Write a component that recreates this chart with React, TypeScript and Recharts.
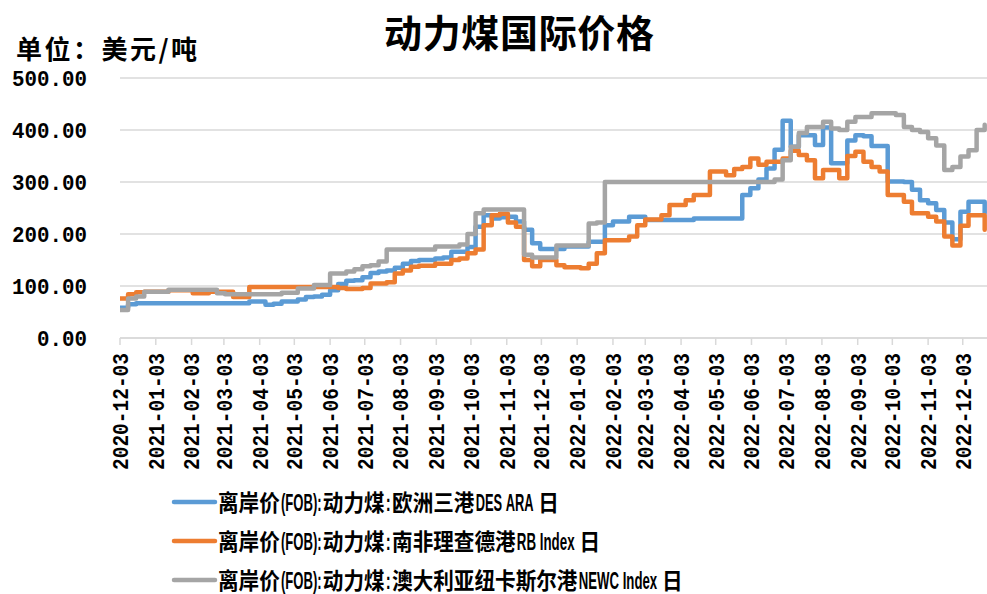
import React from 'react';
import { LineChart, Line, XAxis, YAxis, CartesianGrid, Legend } from 'recharts';

const TITLE = '动力煤国际价格';
const UNIT_LABEL = '单位：美元/吨';

// weekly observation dates
const dates = [
  '2020-12-03', '2020-12-10', '2020-12-17', '2020-12-24', '2020-12-31',
  '2021-01-07', '2021-01-14', '2021-01-21', '2021-01-28', '2021-02-04',
  '2021-02-11', '2021-02-18', '2021-02-25', '2021-03-04', '2021-03-11',
  '2021-03-18', '2021-03-25', '2021-04-01', '2021-04-08', '2021-04-15',
  '2021-04-22', '2021-04-29', '2021-05-06', '2021-05-13', '2021-05-20',
  '2021-05-27', '2021-06-03', '2021-06-10', '2021-06-17', '2021-06-24',
  '2021-07-01', '2021-07-08', '2021-07-15', '2021-07-22', '2021-07-29',
  '2021-08-05', '2021-08-12', '2021-08-19', '2021-08-26', '2021-09-02',
  '2021-09-09', '2021-09-16', '2021-09-23', '2021-09-30', '2021-10-07',
  '2021-10-14', '2021-10-21', '2021-10-28', '2021-11-04', '2021-11-11',
  '2021-11-18', '2021-11-25', '2021-12-02', '2021-12-09', '2021-12-16',
  '2021-12-23', '2021-12-30', '2022-01-06', '2022-01-13', '2022-01-20',
  '2022-01-27', '2022-02-03', '2022-02-10', '2022-02-17', '2022-02-24',
  '2022-03-03', '2022-03-10', '2022-03-17', '2022-03-24', '2022-03-31',
  '2022-04-07', '2022-04-14', '2022-04-21', '2022-04-28', '2022-05-05',
  '2022-05-12', '2022-05-19', '2022-05-26', '2022-06-02', '2022-06-09',
  '2022-06-16', '2022-06-23', '2022-06-30', '2022-07-07', '2022-07-14',
  '2022-07-21', '2022-07-28', '2022-08-04', '2022-08-11', '2022-08-18',
  '2022-08-25', '2022-09-01', '2022-09-08', '2022-09-15', '2022-09-22',
  '2022-09-29', '2022-10-06', '2022-10-13', '2022-10-20', '2022-10-27',
  '2022-11-03', '2022-11-10', '2022-11-17', '2022-11-24', '2022-12-01',
  '2022-12-08', '2022-12-15', '2022-12-22',
];

// 欧洲三港 DES ARA
const europeARA = [
  58, 65, 67, 67, 67, 67, 67, 67, 67, 67,
  67, 67, 67, 67, 67, 67, 70, 70, 64, 66,
  70, 70, 74, 79, 80, 83, 92, 104, 110, 111,
  117, 125, 128, 130, 135, 143, 148, 150, 150, 153,
  155, 166, 166, 175, 214, 236, 230, 232, 233, 224,
  208, 182, 171, 171, 171, 176, 176, 176, 185, 185,
  217, 224, 224, 233, 233, 227, 227, 227, 227, 227,
  227, 230, 230, 230, 230, 230, 230, 275, 288, 305,
  326, 362, 418, 368, 390, 390, 371, 405, 336, 336,
  380, 390, 388, 369, 369, 301, 301, 300, 285, 265,
  259, 246, 222, 190, 243, 262, 262, 240,
];

// 南非理查德港 RB Index
const richardsBay = [
  76, 84, 88, 89, 89, 89, 92, 92, 92, 86,
  86, 89, 89, 89, 79, 79, 98, 98, 98, 98,
  98, 98, 98, 98, 98, 98, 98, 96, 94, 94,
  96, 105, 105, 107, 124, 130, 137, 139, 139, 143,
  143, 150, 153, 163, 170, 217, 236, 239, 222, 214,
  150, 138, 150, 150, 140, 136, 136, 134, 143, 163,
  188, 188, 188, 195, 217, 228, 228, 236, 256, 256,
  265, 275, 275, 320, 320, 313, 325, 329, 345, 333,
  339, 339, 345, 360, 352, 342, 307, 323, 323, 307,
  350, 358, 339, 329, 320, 275, 275, 262, 240, 240,
  233, 224, 195, 178, 216, 236, 236, 208,
];

// 澳大利亚纽卡斯尔港 NEWC Index
const newcastle = [
  54, 76, 80, 89, 89, 89, 93, 93, 93, 93,
  93, 93, 86, 84, 84, 84, 84, 84, 84, 84,
  87, 87, 95, 95, 102, 102, 124, 124, 128, 132,
  138, 140, 147, 170, 170, 170, 170, 170, 170, 176,
  176, 176, 180, 200, 240, 247, 247, 247, 247, 247,
  160, 155, 155, 155, 178, 178, 178, 178, 220, 222,
  300, 300, 300, 300, 300, 300, 300, 300, 300, 300,
  300, 300, 300, 300, 300, 300, 300, 300, 300, 300,
  300, 305, 342, 368, 394, 406, 406, 416, 403, 400,
  416, 425, 425, 432, 432, 432, 429, 406, 400, 396,
  384, 370, 323, 329, 349, 361, 400, 410,
];

const seriesNames = [
  '离岸价(FOB):动力煤:欧洲三港DES ARA 日',
  '离岸价(FOB):动力煤:南非理查德港RB Index 日',
  '离岸价(FOB):动力煤:澳大利亚纽卡斯尔港NEWC Index 日',
];
const seriesKeys = ['ara', 'rb', 'newc'];
const seriesColors = ['#5B9BD5', '#ED7D31', '#A5A5A5'];

const xTickLabels = [
  '2020-12-03', '2021-01-03', '2021-02-03', '2021-03-03', '2021-04-03',
  '2021-05-03', '2021-06-03', '2021-07-03', '2021-08-03', '2021-09-03',
  '2021-10-03', '2021-11-03', '2021-12-03', '2022-01-03', '2022-02-03',
  '2022-03-03', '2022-04-03', '2022-05-03', '2022-06-03', '2022-07-03',
  '2022-08-03', '2022-09-03', '2022-10-03', '2022-11-03', '2022-12-03',
];
const xDomainEndDate = '2022-12-24';
const yTicks = [0, 100, 200, 300, 400, 500];

const ts = (s: string) => Date.parse(s + 'T00:00:00Z');
const fmtDate = (v: number) => new Date(v).toISOString().slice(0, 10);

const chartData = dates.map((d, i) => ({
  t: ts(d),
  ara: europeARA[i],
  rb: richardsBay[i],
  newc: newcastle[i],
}));

const MONO = '"Liberation Mono", "DejaVu Sans Mono", monospace';
const CJK = '"Noto Sans CJK SC", "Noto Sans", sans-serif';
const LATIN = '"Liberation Sans", Arial, sans-serif';

const XTick = (props: any) => {
  const { x, y, payload } = props;
  const label = fmtDate(payload.value);
  return (
    <g transform={`translate(${x},${y})`}>
      <text
        transform="rotate(-90)"
        textAnchor="end"
        dy="0.36em"
        fontFamily={MONO}
        fontWeight="bold"
        fontSize={22}
        fill="#000"
        textLength={label.length * 11.7}
        lengthAdjust="spacingAndGlyphs"
      >
        {label}
      </text>
    </g>
  );
};

const YTick = (props: any) => {
  const { x, y, payload } = props;
  const label = Number(payload.value).toFixed(2);
  return (
    <text
      x={x}
      y={y}
      textAnchor="end"
      dy="0.36em"
      fontFamily={MONO}
      fontWeight="bold"
      fontSize={22}
      fill="#000"
      textLength={label.length * 12.5}
      lengthAdjust="spacingAndGlyphs"
    >
      {label}
    </text>
  );
};

const isCJK = (c: string) => /[\u3000-\u9fff\uff00-\uffef]/.test(c);
const asciiWidth = (c: string) => {
  if ('():.'.includes(c)) return 6;
  if (c === ' ') return 7;
  if (c === 'I') return 4;
  if (c === 'W') return 14;
  if (c === 'O') return 11;
  if (c === 'N') return 11;
  if (c >= 'A' && c <= 'Z') return 10;
  return 9;
};

const LegendRow = ({ label, color, y }: { label: string; color: string; y: number }) => {
  const runs = label.match(/[\u3000-\u9fff\uff00-\uffef]+|[^\u3000-\u9fff\uff00-\uffef]+/g) || [];
  let cx = 58;
  const spans: any[] = [];
  runs.forEach((run, i) => {
    const cjk = isCJK(run[0]);
    const w = cjk
      ? run.length * 20.6
      : run.split('').reduce((s, c) => s + asciiWidth(c), 0) * 0.83;
    const shown = cjk ? run : run.replace(/ /g, '\u00a0');
    spans.push(
      <tspan
        key={i}
        x={cx}
        fontFamily={cjk ? CJK : LATIN}
        fontSize={cjk ? 23 : 24}
        textLength={w}
        lengthAdjust="spacingAndGlyphs"
      >
        {shown}
      </tspan>
    );
    cx += w + 1.2;
  });
  return (
    <g>
      <line x1={14} x2={55} y1={y} y2={y} stroke={color} strokeWidth={4.5} strokeLinecap="round" />
      <text y={y + 9} fontWeight="bold" fill="#000">
        {spans}
      </text>
    </g>
  );
};

const LegendContent = (props: any) => {
  const payload = props.payload || [];
  return (
    <svg width={620} height={109} style={{ display: 'block', overflow: 'visible' }}>
      {seriesNames.map((name, i) => {
        const entry = payload.find((p: any) => p.value === name);
        return (
          <LegendRow
            key={name}
            label={name}
            color={entry ? entry.color : seriesColors[i]}
            y={17 + 39 * i}
          />
        );
      })}
    </svg>
  );
};

export default function App() {
  return (
    <div style={{ position: 'absolute', left: 0, top: 0, width: 987, height: 594, background: '#fff', overflow: 'hidden' }}>
      <LineChart
        width={987}
        height={594}
        data={chartData}
        margin={{ top: 78, right: 0, left: 0, bottom: 106 }}
      >
        <CartesianGrid horizontal vertical={false} stroke="#d9d9d9" strokeWidth={1.5} />
        <XAxis
          dataKey="t"
          type="number"
          domain={[ts(dates[0]), ts(xDomainEndDate)]}
          ticks={xTickLabels.map(ts)}
          tick={<XTick />}
          interval={0}
          height={150}
          tickSize={7}
          tickMargin={8}
          axisLine={{ stroke: '#d9d9d9', strokeWidth: 1.5 }}
          tickLine={{ stroke: '#d9d9d9', strokeWidth: 1.5 }}
          allowDataOverflow
        />
        <YAxis
          domain={[0, 500]}
          ticks={yTicks}
          width={120}
          axisLine={false}
          tickLine={false}
          tickSize={0}
          tickMargin={33}
          tick={<YTick />}
          interval={0}
        />
        <Legend
          layout="vertical"
          align="center"
          verticalAlign="middle"
          wrapperStyle={{ left: 160, top: 485, width: 620, height: 109 }}
          content={<LegendContent />}
        />
        {seriesKeys.map((k, i) => (
          <Line
            key={k}
            dataKey={k}
            name={seriesNames[i]}
            type="stepAfter"
            stroke={seriesColors[i]}
            strokeWidth={4.5}
            strokeLinejoin="round"
            strokeLinecap="round"
            dot={false}
            activeDot={false}
            isAnimationActive={false}
          />
        ))}
      </LineChart>
      <svg
        width={987}
        height={80}
        style={{ position: 'absolute', left: 0, top: 0, pointerEvents: 'none' }}
      >
        <text
          x={519}
          y={47}
          textAnchor="middle"
          fontFamily={CJK}
          fontWeight="bold"
          fontSize={38}
          fill="#000"
          textLength={270}
          lengthAdjust="spacing"
        >
          {TITLE}
        </text>
        <text
          x={16}
          y={59}
          fontFamily={CJK}
          fontWeight="bold"
          fontSize={26}
          fill="#000"
          textLength={181}
          lengthAdjust="spacing"
        >
          {UNIT_LABEL}
        </text>
      </svg>
    </div>
  );
}
